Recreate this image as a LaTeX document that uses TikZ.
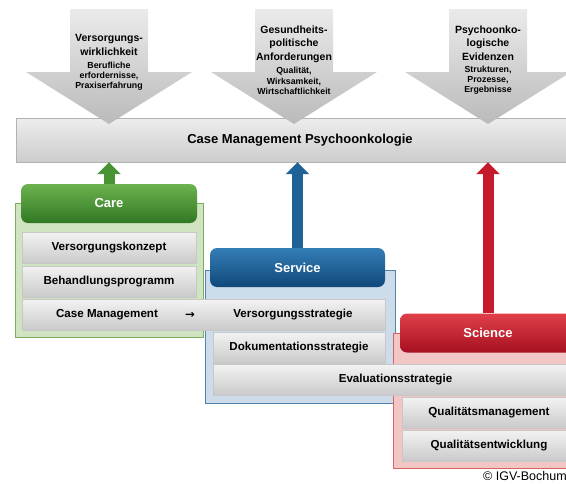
\documentclass[tikz,border=0pt]{standalone}
\usepackage{fontspec}
\setmainfont{Liberation Sans}
\newfontfamily\arrowfont{DejaVu Sans}
\usetikzlibrary{arrows.meta,calc}
\definecolor{CareClr}{RGB}{72,148,52}
\definecolor{CareTopClr}{RGB}{108,178,78}
\definecolor{CareBotClr}{RGB}{50,120,36}
\definecolor{CareBgClr}{RGB}{208,228,194}
\definecolor{CareLnClr}{RGB}{122,174,94}
\definecolor{ServClr}{RGB}{30,98,152}
\definecolor{ServTopClr}{RGB}{52,126,182}
\definecolor{ServBotClr}{RGB}{16,72,122}
\definecolor{ServBgClr}{RGB}{205,220,234}
\definecolor{ServLnClr}{RGB}{82,130,170}
\definecolor{SciClr}{RGB}{196,28,44}
\definecolor{SciTopClr}{RGB}{224,64,74}
\definecolor{SciBotClr}{RGB}{166,16,32}
\definecolor{SciBgClr}{RGB}{243,198,198}
\definecolor{SciLnClr}{RGB}{216,98,102}

\begin{document}
\begin{tikzpicture}[x=1pt,y=-1pt,
  headbox/.style={rounded corners=7pt,inner sep=0pt,minimum width=176pt,minimum height=39pt,
    text=white,font=\fontsize{13}{15}\selectfont\bfseries},
  groupbox/.style={line width=1pt,inner sep=0pt},
  rowbox/.style={draw=black!22,top color=black!5,bottom color=black!21,inner sep=0pt,
    minimum width=174pt,minimum height=31pt,font=\fontsize{11.6}{13}\selectfont\bfseries},
  rowtext/.style={inner sep=0pt,font=\fontsize{11.6}{13}\selectfont\bfseries},
  uparrow/.style={line width=11pt,-{Triangle[width=23pt,length=12pt]}},
  toparrow/.style={top color=black!8,bottom color=black!27},
  toptitle/.style={align=center,inner sep=0pt,font=\fontsize{10.5}{13.5}\selectfont\bfseries},
  topsub/.style={align=center,inner sep=0pt,font=\fontsize{8.8}{10.2}\selectfont\bfseries}]

\useasboundingbox (0,0) rectangle (566,483);
\clip (0,0) rectangle (566,483);

\node[draw=black!30,top color=black!7,bottom color=black!20,inner sep=0pt,
  minimum width=568pt,minimum height=44pt,font=\fontsize{13}{15}\selectfont\bfseries]
  (cmpo) at (300,140) {Case Management Psychoonkologie};

\foreach \c in {109,294,488}
  \shade[toparrow] (\c-39,9) -- (\c+39,9) -- (\c+39,72) -- (\c+83,72) -- (\c,124)
    -- (\c-83,72) -- (\c-39,72) -- cycle;

\node[toptitle] (top1) at (109,45) {Versorgungs-\\wirklichkeit};
\node[topsub] (sub1) at (109,76) {Berufliche\\erfordernisse,\\Praxiserfahrung};
\node[toptitle] (top2) at (294,44) {Gesundheits-\\politische\\Anforderungen};
\node[topsub] (sub2) at (294,81) {Qualität,\\Wirksamkeit,\\Wirtschaftlichkeit};
\node[toptitle] (top3) at (488,43) {Psychoonko-\\logische\\Evidenzen};
\node[topsub] (sub3) at (488,80) {Strukturen,\\Prozesse,\\Ergebnisse};

\node[groupbox,draw=CareLnClr,fill=CareBgClr,minimum width=188pt,minimum height=134pt]
  (careBg) at (109,270) {};
\node[headbox,top color=CareTopClr,bottom color=CareBotClr] (careHd) at (109,203.5) {Care};
\node[rowbox] (care1) at (109,248) {Versorgungskonzept};
\node[rowbox] (care2) at (109,281.5) {Behandlungsprogramm};

\node[groupbox,draw=ServLnClr,fill=ServBgClr,minimum width=190pt,minimum height=133pt]
  (servBg) at (300,336.5) {};
\node[headbox,top color=ServTopClr,bottom color=ServBotClr,minimum width=175pt]
  (servHd) at (297.5,267.5) {Service};

\node[rowbox,minimum width=363pt] (cmRow) at (203.5,315) {};
\node[rowtext] (cmTxt) at (107,315) {Case Management};
\node[rowtext] (cmArr) at (190,315) {\arrowfont\bfseries →};
\node[rowtext] (serv1) at (293,315) {Versorgungsstrategie};
\node[rowbox,minimum width=172pt] (serv2) at (299,348) {Dokumentationsstrategie};

\node[groupbox,draw=SciLnClr,fill=SciBgClr,minimum width=187pt,minimum height=135pt]
  (sciBg) at (486.5,400.5) {};
\node[headbox,top color=SciTopClr,bottom color=SciBotClr] (sciHd) at (488,333) {Science};
\node[rowbox,minimum width=365pt] (serv3) at (395.5,380) {Evaluationsstrategie};
\node[rowbox] (sci1) at (489,413) {Qualitätsmanagement};
\node[rowbox] (sci2) at (489,446) {Qualitätsentwicklung};

\draw[uparrow,CareClr] (careHd.north) -- (careHd.north |- cmpo.south);
\draw[uparrow,ServClr] (servHd.north) -- (servHd.north |- cmpo.south);
\draw[uparrow,SciClr] (sciHd.north) -- (sciHd.north |- cmpo.south);

\node[anchor=west,inner sep=0pt,font=\fontsize{12.5}{14}\selectfont] (igv) at (483,476) {© IGV-Bochum};

\end{tikzpicture}
\end{document}
